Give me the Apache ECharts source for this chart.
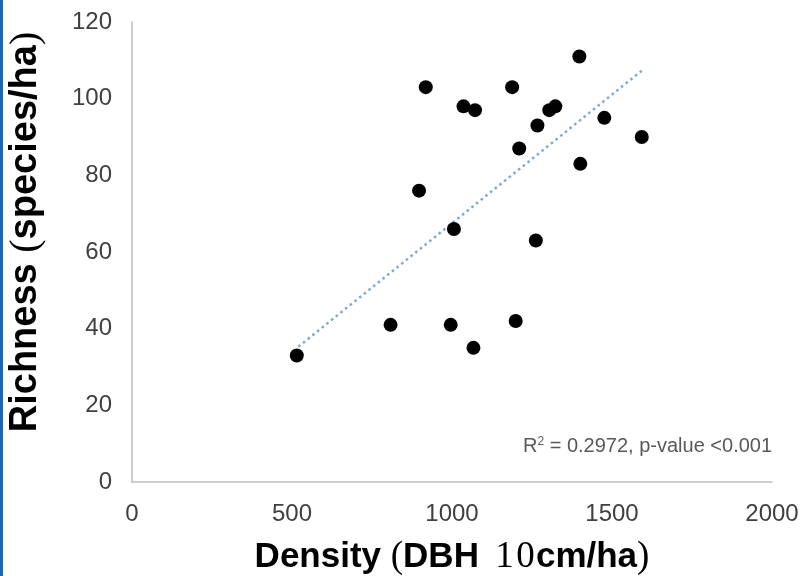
<!DOCTYPE html>
<html>
<head>
<meta charset="utf-8">
<script src="https://cdn.jsdelivr.net/npm/echarts@6/dist/echarts.min.js"></script>
<style>
html,body{margin:0;padding:0;background:#fff;}
#chart{width:804px;height:576px;}
</style>
</head>
<body>
<div id="chart"></div>
<script>
// Data
var densityValues  = [515, 808, 897, 918, 996, 1006, 1036, 1067, 1072, 1188, 1199, 1210, 1262, 1267, 1304, 1323, 1398, 1401, 1476, 1593];
var richnessValues = [33, 41, 76, 103, 41, 66, 98, 35, 97, 103, 42, 87, 63, 93, 97, 98, 111, 83, 95, 90];
var trendX = [520, 1593];
var trendY = [35.3, 107.3];
var xTicks = [0, 500, 1000, 1500, 2000];
var yTicks = [0, 20, 40, 60, 80, 100, 120];
var annotationText = '0.2972, p-value <0.001';

var points = densityValues.map(function (d, i) { return [d, richnessValues[i]]; });
var trend = trendX.map(function (d, i) { return [d, trendY[i]]; });

var chart = echarts.init(document.getElementById('chart'), null, {renderer: 'canvas'});
var labelFont = 'Liberation Sans, Arial, sans-serif';
var serifFont = 'Liberation Serif, serif';
chart.setOption({
  animation: false,
  backgroundColor: '#ffffff',
  grid: {left: 132, right: 32, top: 22, bottom: 94, containLabel: false, outerBoundsMode: 'none'},
  xAxis: {
    type: 'value', min: xTicks[0], max: xTicks[xTicks.length - 1], interval: 500,
    axisLine: {show: true, lineStyle: {color: '#bfbfbf', width: 1.5}},
    axisTick: {show: false},
    splitLine: {show: false},
    axisLabel: {color: '#404040', fontSize: 24, fontFamily: labelFont, margin: 20,
      formatter: function (v) { return String(v); }},
    name: '{b|Density }{q|(}{b|DBH}{g| }{d|1}{d|0}{b|cm/ha}{q|)}',
    nameLocation: 'middle',
    nameGap: 57,
    nameTextStyle: {
      rich: {
        b: {fontSize: 35, fontWeight: 'bold', fontFamily: labelFont, color: '#000'},
        q: {fontSize: 37, fontFamily: serifFont, color: '#000'},
        g: {fontSize: 35, fontFamily: labelFont, width: 15},
        d: {fontSize: 37, fontFamily: serifFont, color: '#000', width: 21, align: 'center'}
      }
    }
  },
  yAxis: {
    type: 'value', min: yTicks[0], max: yTicks[yTicks.length - 1], interval: 20,
    axisLine: {show: true, lineStyle: {color: '#bfbfbf', width: 1.5}},
    axisTick: {show: false},
    splitLine: {show: false},
    axisLabel: {color: '#404040', fontSize: 24, fontFamily: labelFont, margin: 20,
      formatter: function (v) { return String(v); }},
    name: '{b|Richness }{q|(}{b|species/ha}{q|)}',
    nameLocation: 'middle',
    nameGap: 86,
    nameRotate: 90,
    nameTextStyle: {
      padding: [0, 0, 0, 40],
      rich: {
        b: {fontSize: 38, fontWeight: 'bold', fontFamily: labelFont, color: '#000'},
        q: {fontSize: 40, fontFamily: serifFont, color: '#000'}
      }
    }
  },
  graphic: [
    {type: 'rect', left: 0, top: 0, shape: {width: 3, height: 576}, style: {fill: '#1a66b5'}, silent: true},
    {
      type: 'text', left: 523, top: 436,
      style: {
        text: '{r|R}{sup|2}{r| = ' + annotationText + '}',
        rich: {
          r: {fontSize: 20, fontFamily: labelFont, fill: '#595959'},
          sup: {fontSize: 12, fontFamily: labelFont, fill: '#595959', verticalAlign: 'top', padding: [0, 0, 8, 0]}
        }
      }
    }
  ],
  series: [
    {
      type: 'scatter', data: points, symbol: 'circle', symbolSize: 14,
      itemStyle: {color: '#000000', opacity: 1}, z: 3
    },
    {
      type: 'line', data: trend, showSymbol: false, symbol: 'none',
      lineStyle: {color: '#7fa9c4', width: 2.5, type: [2.5, 3.5]}, z: 2
    }
  ]
});
</script>
</body>
</html>
